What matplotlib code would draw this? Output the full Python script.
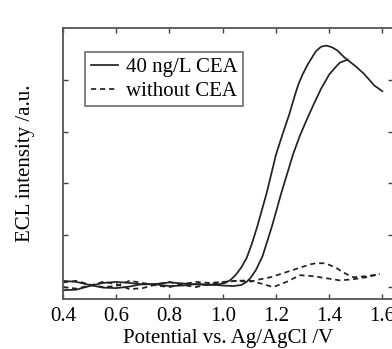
import matplotlib
matplotlib.use('Agg')
import matplotlib.pyplot as plt

plt.rcParams['font.family'] = ['Liberation Serif', 'DejaVu Serif']
plt.rcParams['font.size'] = 15

# 40 ng/L CEA, two scan branches
x_a = [0.40, 0.45, 0.50, 0.55, 0.60, 0.65, 0.70, 0.75, 0.80, 0.85, 0.90, 0.95, 0.98, 1.01, 1.03, 1.05,
       1.07, 1.09, 1.11, 1.13, 1.165, 1.20, 1.225, 1.25, 1.27, 1.285, 1.30, 1.32, 1.35, 1.37, 1.39, 1.41,
       1.43, 1.46, 1.50, 1.53, 1.57, 1.60]
y_a = [-0.06, -0.05, 0.02, 0.08, 0.10, 0.08, 0.05, 0.06, 0.09, 0.07, 0.05, 0.04, 0.05, 0.08, 0.14, 0.24,
       0.38, 0.56, 0.84, 1.17, 1.81, 2.55, 2.95, 3.33, 3.68, 3.92, 4.10, 4.30, 4.55, 4.64, 4.66, 4.63,
       4.57, 4.42, 4.26, 4.12, 3.89, 3.78]
x_b = [0.40, 0.45, 0.50, 0.55, 0.60, 0.65, 0.70, 0.75, 0.80, 0.85, 0.90, 0.95, 1.00, 1.04, 1.07, 1.09,
       1.105, 1.125, 1.15, 1.185, 1.22, 1.265, 1.29, 1.32, 1.345, 1.37, 1.40, 1.42, 1.44, 1.47]
y_b = [0.12, 0.10, 0.04, -0.01, -0.02, 0.01, 0.06, 0.05, 0.02, 0.03, 0.06, 0.05, 0.03, 0.02, 0.04, 0.10,
       0.18, 0.33, 0.60, 1.17, 1.81, 2.57, 2.92, 3.28, 3.56, 3.83, 4.10, 4.22, 4.33, 4.39]

# without CEA, two scan branches
x_c = [0.40, 0.45, 0.50, 0.55, 0.60, 0.65, 0.70, 0.75, 0.80, 0.85, 0.90, 0.95, 1.00, 1.05, 1.10, 1.14,
       1.18, 1.21, 1.24, 1.27, 1.30, 1.33, 1.35, 1.38, 1.40, 1.43, 1.45, 1.49, 1.54, 1.59]
y_c = [0.09, 0.12, 0.05, 0.00, 0.02, 0.12, 0.08, 0.03, 0.00, 0.06, 0.10, 0.08, 0.10, 0.12, 0.10, 0.15,
       0.19, 0.24, 0.29, 0.34, 0.39, 0.44, 0.46, 0.46, 0.43, 0.36, 0.29, 0.19, 0.21, 0.25]
x_d = [0.40, 0.45, 0.50, 0.55, 0.60, 0.65, 0.70, 0.75, 0.80, 0.85, 0.90, 0.95, 1.00, 1.05, 1.10, 1.15,
       1.19, 1.24, 1.29, 1.34, 1.39, 1.44, 1.49, 1.54, 1.59]
y_d = [0.00, -0.03, 0.03, 0.10, 0.06, -0.04, -0.02, 0.05, 0.10, 0.04, 0.00, 0.06, 0.09, 0.12, 0.13, 0.06,
       0.00, 0.10, 0.23, 0.21, 0.17, 0.13, 0.15, 0.19, 0.25]

x_ticks = [0.4, 0.6, 0.8, 1.0, 1.2, 1.4, 1.6]
x_labels = ['0.4', '0.6', '0.8', '1.0', '1.2', '1.4', '1.6']
y_ticks = [0, 1, 2, 3, 4]

fig = plt.figure(figsize=(3.92, 3.49), dpi=100)
ax = fig.add_axes([63 / 392, 50 / 349, 330 / 392, 271 / 349])

line_col = '#222222'
ax.plot(x_a, y_a, color=line_col, lw=1.25, label='40 ng/L CEA')
ax.plot(x_b, y_b, color=line_col, lw=1.25)
ax.plot(x_c, y_c, color=line_col, lw=1.25, ls=(0, (3, 2.2)), label='without CEA')
ax.plot(x_d, y_d, color=line_col, lw=1.25, ls=(0, (3, 2.2)))

ax.set_xlim(0.4, 1.64)
ax.set_ylim(-0.23, 5.0)
ax.set_xticks(x_ticks)
ax.set_xticklabels(x_labels)
ax.set_yticks(y_ticks)
ax.set_yticklabels([])
ax.tick_params(direction='in', top=True, right=True, length=3.5, width=1, color='#444444', pad=6)
for s in ax.spines.values():
    s.set_color('#555555')
    s.set_linewidth(1.3)

ax.set_xlabel('Potential vs. Ag/AgCl /V', labelpad=2)
ax.set_ylabel('ECL intensity /a.u.', labelpad=14)

leg = ax.legend(loc='upper left', bbox_to_anchor=(0.068, 0.91), fancybox=False, handlelength=1.3,
                handletextpad=0.4, borderpad=0.25, labelspacing=0.2, borderaxespad=0)
leg.get_frame().set_edgecolor('#555555')
leg.get_frame().set_linewidth(1.3)

fig.savefig('out.png', dpi=100)
